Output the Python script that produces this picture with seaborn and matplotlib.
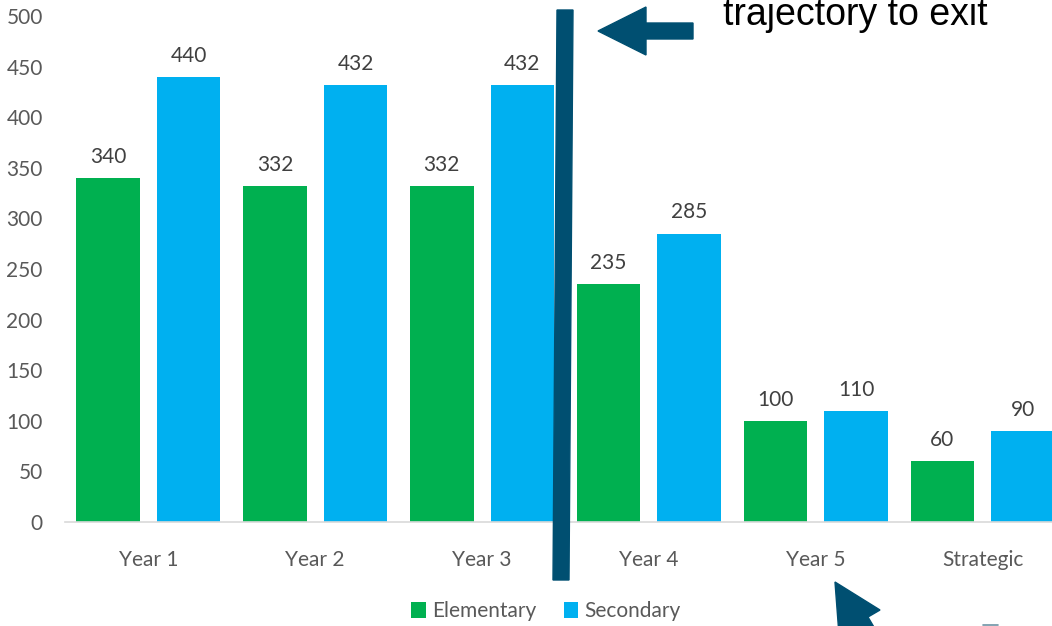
import matplotlib
matplotlib.use("Agg")
import pandas as pd
import matplotlib.pyplot as plt
import matplotlib.patches as mpatches
from matplotlib.lines import Line2D
import seaborn as sns

# chart data
categories = ["Year 1", "Year 2", "Year 3", "Year 4", "Year 5", "Strategic"]
elementary = [340, 332, 332, 235, 100, 60]
secondary = [440, 432, 432, 285, 110, 90]
series_names = ["Elementary", "Secondary"]
y_ticks = list(range(0, 501, 50))

df = pd.DataFrame({
    "category": categories * 2,
    "value": elementary + secondary,
    "series": [series_names[0]] * len(categories) + [series_names[1]] * len(categories),
})

W, H = 1052, 626
NAVY = "#004F71"

sns.set_theme(style="white")
plt.rcParams["font.family"] = ["Lato", "DejaVu Sans"]


def px(x, y):
    """pixel coords (origin top-left) -> figure fraction"""
    return (x / W, 1 - y / H)


fig = plt.figure(figsize=(W / 100, H / 100), dpi=100)
ax = fig.add_axes([65 / W, (H - 522) / H, 1001 / W, 506 / H])

sns.barplot(data=df, x="category", y="value", hue="series", order=categories,
            hue_order=series_names, palette=["#00B050", "#00B0F0"],
            width=0.965, gap=0.21, saturation=1, linewidth=0, ax=ax)

for cont in ax.containers:
    ax.bar_label(cont, padding=8, fontsize=15, color="#404040")

ax.set_ylim(0, 500)
ax.set_yticks(y_ticks)
ax.set_xlabel("")
ax.set_ylabel("")
for side in ["top", "right", "left"]:
    ax.spines[side].set_visible(False)
ax.spines["bottom"].set_color("#D9D9D9")
ax.spines["bottom"].set_linewidth(1.2)
ax.tick_params(axis="both", length=0, labelsize=15, colors="#595959")
ax.tick_params(axis="y", pad=16)
ax.tick_params(axis="x", pad=20)

handles, labels = ax.get_legend_handles_labels()
ax.legend(handles, labels, loc="center", bbox_to_anchor=px(546, 611),
          bbox_transform=fig.transFigure, ncol=2, frameon=False,
          handlelength=0.7, handleheight=0.8, handletextpad=0.3,
          columnspacing=1.3, fontsize=15, labelcolor="#595959")

# overlay shapes
fig.add_artist(mpatches.Polygon([px(557, 10), px(573, 10), px(569, 580), px(553, 580)],
                                closed=True, transform=fig.transFigure, color=NAVY, zorder=5))
fig.add_artist(mpatches.Polygon([px(598, 31), px(646, 7), px(646, 23), px(693, 23),
                                 px(693, 39), px(646, 39), px(646, 55)],
                                closed=True, transform=fig.transFigure, color=NAVY, zorder=5))
fig.add_artist(mpatches.Polygon([px(835, 582), px(880, 610), px(868, 617), px(905, 680),
                                 px(888, 690), px(851, 627), px(839, 635)],
                                closed=True, transform=fig.transFigure, color=NAVY, zorder=5))
fig.add_artist(Line2D([983 / W, 998 / W], [1 - 624.5 / H] * 2, color="#6E94A6", lw=1.2,
                      transform=fig.transFigure))
fig.text(*px(723, 25), "trajectory to exit", fontsize=27, color="black",
         family=["Liberation Sans", "DejaVu Sans"], ha="left", va="baseline")

fig.savefig("out.png", dpi=100)
